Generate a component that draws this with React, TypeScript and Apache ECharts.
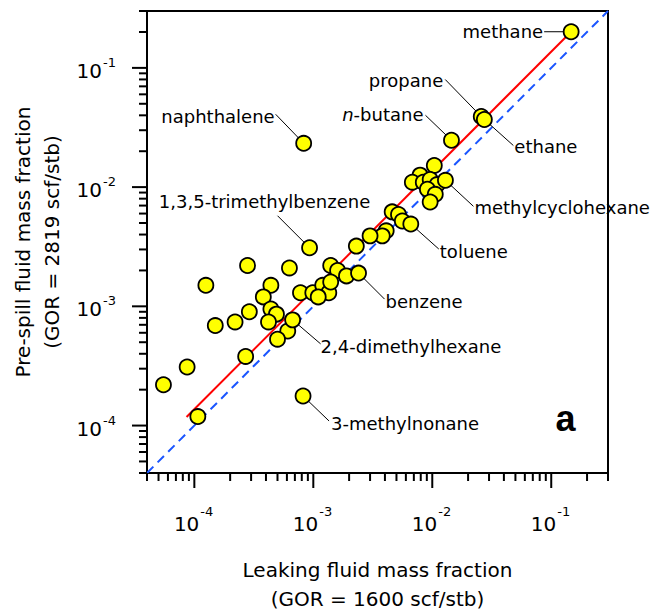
import React, { useEffect, useRef } from 'react';
import * as echarts from 'echarts';

// ---- axis range ----
const X_MIN = 4e-5;
const X_MAX = 0.3;
const Y_MIN = 4e-5;
const Y_MAX = 0.3;

// ---- tick definitions ----
const majorTicks = [1e-4, 1e-3, 1e-2, 1e-1];
const tickExponents = ['-4', '-3', '-2', '-1'];
const minorDecades = [1e-5, 1e-4, 1e-3, 1e-2, 1e-1];
const minorMultipliers = [2, 3, 4, 5, 6, 7, 8, 9];

// ---- labelled compounds ----
const labeledNames = [
  'methane', 'propane', 'ethane', 'n-butane', 'naphthalene',
  '1,3,5-trimethylbenzene', 'methylcyclohexane', 'toluene', 'benzene',
  '2,4-dimethylhexane', '3-methylnonane',
];
const labeledLeaking = [0.147, 0.0258, 0.0274, 0.0145, 8.3e-4, 9.3e-4, 0.0129, 0.0066, 0.0024, 6.7e-4, 8.2e-4];
const labeledPreSpill = [0.201, 0.0391, 0.0369, 0.0247, 0.0233, 0.0031, 0.0114, 0.0049, 0.0019, 7.7e-4, 1.77e-4];

// ---- other compounds ----
const otherLeaking = [
  0.0104, 0.0079, 0.0068, 0.0084, 0.0096, 0.011, 0.0091, 0.0106, 0.0096,
  0.0046, 0.0052, 0.0056, 0.0041, 0.0038, 0.0030, 0.0023,
  2.8e-4, 6.3e-4, 0.0014, 0.0016, 0.0019,
  1.25e-4, 4.4e-4, 3.8e-4, 7.8e-4, 9.9e-4, 0.0012, 0.00135, 0.0011, 0.0014,
  2.9e-4, 4.4e-4, 4.9e-4, 2.2e-4, 1.5e-4, 4.2e-4, 6.1e-4, 5.0e-4,
  2.7e-4, 8.7e-5, 5.5e-5, 1.07e-4,
];
const otherPreSpill = [
  0.0152, 0.0126, 0.011, 0.011, 0.0116, 0.0105, 0.0096, 0.0087, 0.0075,
  0.0062, 0.0059, 0.0052, 0.0043, 0.0039, 0.0039, 0.0032,
  0.0022, 0.0021, 0.0022, 0.0020, 0.0018,
  0.0015, 0.0015, 0.0012, 0.0013, 0.0013, 0.0015, 0.0013, 0.0012, 0.0016,
  9.0e-4, 9.5e-4, 8.6e-4, 7.4e-4, 6.9e-4, 7.4e-4, 6.2e-4, 5.3e-4,
  3.8e-4, 3.1e-4, 2.2e-4, 1.19e-4,
];

// ---- lines ----
const fitLeaking = [8.6e-5, 0.147];
const fitPreSpill = [1.18e-4, 0.201];
const parityValues = [4e-5, 0.3];

// ---- annotation layout (pixel offsets from the point) ----
const annotationLayout = [
  { tx: -28, ty: 0, align: 'right', lx: -27, ly: 0 },
  { tx: -38, ty: -36, align: 'right', lx: -36, ly: -37 },
  { tx: 30, ty: 27, align: 'left', lx: 29, ly: 26 },
  { tx: -28, ty: -26, align: 'right', lx: -26, ly: -25 },
  { tx: -29, ty: -27, align: 'right', lx: -28, ly: -29 },
  { tx: -45, ty: -46, align: 'center', lx: -32, ly: -32 },
  { tx: 29, ty: 27, align: 'left', lx: 28, ly: 26 },
  { tx: 29, ty: 27, align: 'left', lx: 28, ly: 25 },
  { tx: 27, ty: 28, align: 'left', lx: 26, ly: 26 },
  { tx: 28, ty: 27, align: 'left', lx: 28, ly: 24 },
  { tx: 28, ty: 28, align: 'left', lx: 26, ly: 25 },
];

const FONT = '"DejaVu Sans", "Noto Sans", sans-serif';

export default function App() {
  const ref = useRef<HTMLDivElement>(null);

  useEffect(() => {
    if (!ref.current) return;
    const chart = echarts.init(ref.current, undefined, { renderer: 'svg' });

    const tickData: number[][] = [];
    majorTicks.forEach((v, i) => {
      tickData.push([v, Y_MIN, 0, i]);
      tickData.push([X_MIN, v, 2, i]);
    });
    minorDecades.forEach((d) => {
      minorMultipliers.forEach((m) => {
        const v = m * d;
        if (v >= X_MIN * 0.999 && v <= X_MAX * 1.001) tickData.push([v, Y_MIN, 1, -1]);
        if (v >= Y_MIN * 0.999 && v <= Y_MAX * 1.001) tickData.push([X_MIN, v, 3, -1]);
      });
    });

    const labeledData = labeledNames.map((n, i) => [labeledLeaking[i], labeledPreSpill[i], i]);
    const allPoints = otherLeaking
      .map((x, i) => [x, otherPreSpill[i]])
      .concat(labeledLeaking.map((x, i) => [x, labeledPreSpill[i]]));

    const option: any = {
      animation: false,
      backgroundColor: '#fff',
      grid: {
        left: 147, top: 11, width: 461, height: 462,
        show: true, borderColor: '#000', borderWidth: 2, backgroundColor: 'transparent',
      },
      xAxis: {
        type: 'log', logBase: 10, min: X_MIN, max: X_MAX,
        axisLine: { show: false }, axisTick: { show: false },
        axisLabel: { show: false }, splitLine: { show: false }, minorTick: { show: false },
      },
      yAxis: {
        type: 'log', logBase: 10, min: Y_MIN, max: Y_MAX,
        axisLine: { show: false }, axisTick: { show: false },
        axisLabel: { show: false }, splitLine: { show: false }, minorTick: { show: false },
      },
      graphic: [
        {
          type: 'text', x: 377.5, y: 584.5,
          style: {
            text: 'Leaking fluid mass fraction\n(GOR = 1600 scf/stb)',
            fontSize: 20, fontFamily: FONT, fill: '#000', lineHeight: 29,
            align: 'center', verticalAlign: 'middle',
          },
        },
        {
          type: 'text', x: 37.5, y: 242, rotation: Math.PI / 2,
          style: {
            text: 'Pre-spill fluid mass fraction\n(GOR = 2819 scf/stb)',
            fontSize: 20, fontFamily: FONT, fill: '#000', lineHeight: 29,
            align: 'center', verticalAlign: 'middle',
          },
        },
        {
          type: 'text', x: 565.5, y: 418.5,
          style: {
            text: 'a', fontSize: 36, fontWeight: 'bold', fontFamily: '"Liberation Sans", sans-serif',
            fill: '#000', align: 'center', verticalAlign: 'middle',
          },
        },
      ],
      series: [
        {
          type: 'line', data: parityValues.map((v) => [v, v]), showSymbol: false, symbol: 'none',
          lineStyle: { color: '#1a55ff', width: 2, type: [9, 6] }, z: 2, silent: true,
        },
        {
          type: 'line', data: fitLeaking.map((x, i) => [x, fitPreSpill[i]]), showSymbol: false, symbol: 'none',
          lineStyle: { color: '#ff0000', width: 2 }, z: 3, silent: true,
        },
        {
          type: 'custom', data: labeledData, clip: false, z: 4, silent: true,
          renderItem: (params: any, api: any) => {
            const idx = api.value(2);
            const p = api.coord([api.value(0), api.value(1)]);
            const lay = annotationLayout[idx];
            const name = labeledNames[idx];
            const isButane = name === 'n-butane';
            return {
              type: 'group',
              children: [
                {
                  type: 'line',
                  shape: { x1: p[0] + lay.lx, y1: p[1] + lay.ly, x2: p[0], y2: p[1] },
                  style: { stroke: '#000', lineWidth: 1 },
                },
                {
                  type: 'text', x: p[0] + lay.tx, y: p[1] + lay.ty,
                  style: {
                    text: isButane ? '{i|n}-butane' : name,
                    rich: isButane ? { i: { fontStyle: 'italic', fontSize: 18, fontFamily: FONT, fill: '#000' } } : undefined,
                    fontSize: 18, fontFamily: FONT, fill: '#000',
                    align: lay.align, verticalAlign: 'middle',
                  },
                },
              ],
            };
          },
        },
        {
          type: 'scatter', data: allPoints, symbol: 'circle', symbolSize: 15, z: 5,
          itemStyle: { color: '#ffff00', borderColor: '#000', borderWidth: 1.8, opacity: 1 },
        },
        {
          type: 'custom', data: tickData, clip: false, z: 6, silent: true,
          renderItem: (params: any, api: any) => {
            const kind = api.value(2);
            const li = api.value(3);
            const p = api.coord([api.value(0), api.value(1)]);
            const isX = kind < 2;
            const major = kind % 2 === 0;
            const len = major ? 15 : 8;
            const children: any[] = [];
            if (isX) {
              children.push({ type: 'line', shape: { x1: p[0], y1: p[1], x2: p[0], y2: p[1] + len }, style: { stroke: '#000', lineWidth: 2 } });
            } else {
              children.push({ type: 'line', shape: { x1: p[0] - len, y1: p[1], x2: p[0], y2: p[1] }, style: { stroke: '#000', lineWidth: 2 } });
            }
            if (major && li >= 0) {
              const exp = tickExponents[li];
              if (isX) {
                children.push({ type: 'text', x: p[0] + 5, y: p[1] + 50.5, style: { text: '10', fontSize: 20, fontFamily: FONT, fill: '#000', align: 'right', verticalAlign: 'middle' } });
                children.push({ type: 'text', x: p[0] + 6, y: p[1] + 38, style: { text: exp, fontSize: 13, fontFamily: FONT, fill: '#000', align: 'left', verticalAlign: 'middle' } });
              } else {
                children.push({ type: 'text', x: p[0] - 45, y: p[1] + 3, style: { text: '10', fontSize: 20, fontFamily: FONT, fill: '#000', align: 'right', verticalAlign: 'middle' } });
                children.push({ type: 'text', x: p[0] - 44, y: p[1] - 5.5, style: { text: exp, fontSize: 13, fontFamily: FONT, fill: '#000', align: 'left', verticalAlign: 'middle' } });
              }
            }
            return { type: 'group', children };
          },
        },
      ],
    };

    chart.setOption(option);
    return () => chart.dispose();
  }, []);

  return (
    <div
      ref={ref}
      style={{ position: 'fixed', left: 0, top: 0, width: 653, height: 612, background: '#fff' }}
    />
  );
}
